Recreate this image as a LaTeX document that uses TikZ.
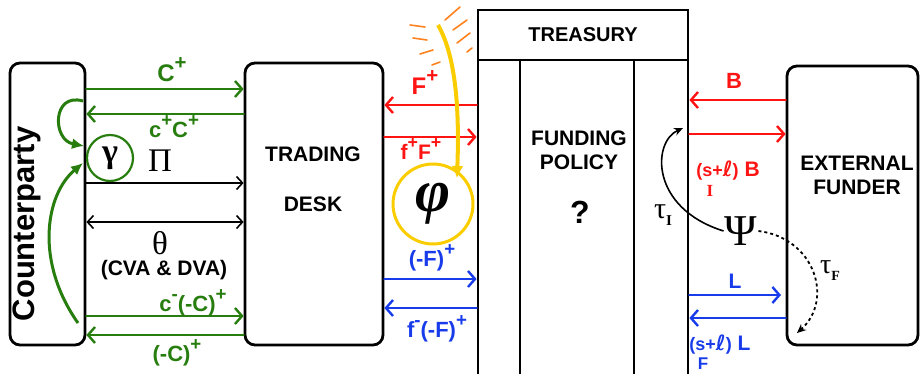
\documentclass[tikz,border=0pt]{standalone}
\usepackage{fontspec}
\setmainfont{Liberation Sans}
\newfontfamily\grk{Liberation Serif}
\newfontfamily\ellf{DejaVu Sans}
\usetikzlibrary{arrows.meta}
\definecolor{cgreen}{RGB}{40,125,15}
\definecolor{cred}{RGB}{255,20,20}
\definecolor{cblue}{RGB}{25,60,235}
\definecolor{cyellow}{RGB}{250,205,0}
\definecolor{corange}{RGB}{255,130,30}
\newcommand\upp[1]{\raisebox{0.5em}{\scalebox{0.85}{#1}}}
\begin{document}
\begin{tikzpicture}[x=1pt,y=-1pt,
  box/.style={draw, line width=2.8pt, rounded corners=10pt, inner sep=0pt},
  sqbox/.style={draw, line width=2.8pt, inner sep=0pt},
  lab/.style={font=\fontsize{21}{24}\selectfont\bfseries, inner sep=1pt},
  glab/.style={font=\fontsize{22}{24}\selectfont\bfseries, inner sep=1pt, text=cgreen},
  grklab/.style={font=\fontsize{33}{33}\selectfont\grk, inner sep=0pt},
  flow/.style={line width=2.8pt, line cap=round, -{Straight Barb[length=7pt,width=16pt,line width=2.4pt]}},
  bflow/.style={line width=2.2pt, -{Straight Barb[length=6pt,width=13pt,line width=1.6pt]}},
  bigtip/.style={line width=3pt, -{Latex[length=12pt,width=11pt]}}
]
\useasboundingbox (0,0) rectangle (921,373);

% boxes
\node[box, minimum width=75pt, minimum height=282pt] (cp) at (47.5,204) {};
\node[rotate=90, font=\fontsize{31}{31}\selectfont\bfseries, inner sep=0pt] (cptext) at (27,224) {Counterparty};
\node[box, minimum width=138pt, minimum height=282pt] (td) at (314,204) {};
\node[lab, align=center] (tdtext) at (313,179) {TRADING\\[26pt]DESK};
\node[sqbox, minimum width=210pt, minimum height=50pt, font=\fontsize{20}{22}\selectfont\bfseries] (tr) at (583,35) {TREASURY};
\node[sqbox, minimum width=210pt, minimum height=340pt] (tb) at (583,230) {};
\draw[line width=2.8pt] (tb.north -| 520,0) -- (tb.south -| 520,0);
\draw[line width=2.8pt] (tb.north -| 634,0) -- (tb.south -| 634,0);
\node[lab, align=center] (fp) at (579,150) {FUNDING\\POLICY};
\node[font=\fontsize{32}{32}\selectfont\bfseries] (q) at (580,212) {?};
\node[box, minimum width=131pt, minimum height=279pt] (ef) at (852.5,205.5) {};
\node[lab, align=center] (eftext) at (857,175) {EXTERNAL\\FUNDER};

% Counterparty <-> desk (green)
\draw[flow, cgreen] (cp.east |- 0,89) -- (td.west |- 0,89);
\node[glab, font=\fontsize{24}{24}\selectfont\bfseries] (lC) at (172,70) {C\upp{+}};
\draw[flow, cgreen] (td.west |- 0,114) -- (cp.east |- 0,114);
\node[glab] (lcC) at (174,127) {c\upp{+}C\upp{+}};
\node[draw=cgreen, circle, line width=2.2pt, minimum size=46pt, inner sep=0pt, font=\fontsize{34}{34}\selectfont\grk\bfseries] (gam) at (110,158) {γ};
\node[grklab] (pi) at (160,161) {Π};
\draw[bflow] (cp.east |- 0,183) -- (td.west |- 0,183);
\draw[line width=2.2pt, {Straight Barb[length=6pt,width=13pt,line width=1.6pt]}-{Straight Barb[length=6pt,width=13pt,line width=1.6pt]}] (cp.east |- 0,222) -- (td.west |- 0,222);
\node[grklab] (th) at (160,243) {θ};
\node[font=\fontsize{21}{24}\selectfont\bfseries] (cva) at (164,270) {(CVA \& DVA)};
\draw[flow, cgreen] (cp.east |- 0,316) -- (td.west |- 0,316);
\node[glab] (lcmC) at (193,303) {c\upp{-}(-C)\upp{+}};
\draw[flow, cgreen] (td.west |- 0,335) -- (cp.east |- 0,335);
\node[glab] (lmC) at (177,353) {(-C)\upp{+}};
\coordinate (g1s) at (78,323);
\coordinate (g1e) at (83,163);
\coordinate (g2s) at (83,101);
\coordinate (g2e) at (84,146);
\draw[bigtip, cgreen] (g1s) .. controls (35,262) and (45,195) .. (g1e);
\draw[bigtip, cgreen] (g2s) .. controls (52,92) and (52,140) .. (g2e);

% Desk <-> treasury
\draw[flow, cred] (tb.west |- 0,105) -- (td.east |- 0,105);
\node[lab, text=cred, font=\fontsize{24}{24}\selectfont\bfseries] (lF) at (425,83) {F\upp{+}};
\draw[flow, cred] (td.east |- 0,137) -- (tb.west |- 0,137);
\node[lab, text=cred, font=\fontsize{21}{22}\selectfont\bfseries, inner sep=0pt] (lfF) at (421,149) {f\upp{+}F\upp{+}};
\node[draw=cyellow, circle, line width=3pt, minimum size=80pt, inner sep=0pt, font=\fontsize{60}{60}\selectfont\grk\bfseries\itshape] (phi) at (433,204) {φ};
\coordinate (ys) at (438,25);
\coordinate (ye) at (457,178);
\draw[cyellow, line width=4pt, -{Latex[length=12pt,width=12pt]}] (ys) .. controls (458,60) and (459,120) .. (ye);
\foreach \a/\b/\c/\d in {410/25/425/27, 413/38/427/40, 420/54/433/50, 432/65/440/62, 445/20/460/7, 453/30/467/20, 457/43/470/33, 467/52/472/48}
  \draw[corange, line width=1.6pt, line cap=round] (\a,\b) -- (\c,\d);
\draw[flow, cblue] (td.east |- 0,279) -- (tb.west |- 0,279);
\node[lab, text=cblue, font=\fontsize{22}{24}\selectfont\bfseries] (lmF) at (432,258) {(-F)\upp{+}};
\draw[flow, cblue] (tb.west |- 0,308) -- (td.east |- 0,308);
\node[lab, text=cblue, font=\fontsize{22}{24}\selectfont\bfseries] (lfmF) at (437,329) {f\upp{-}(-F)\upp{+}};

% Treasury <-> external funder
\draw[flow, cred] (ef.west |- 0,100) -- (tb.east |- 0,100);
\node[lab, text=cred, font=\fontsize{22}{24}\selectfont\bfseries] (lB) at (734,81) {B};
\draw[flow, cred] (tb.east |- 0,134) -- (ef.west |- 0,134);
\node[lab, text=cred] (lsB) at (728,171) {{\fontsize{18}{20}\selectfont(s+}{\ellf\bfseries ℓ}{\fontsize{18}{20}\selectfont)} B};
\node[text=cred, font=\fontsize{17}{17}\selectfont\grk\bfseries, inner sep=0pt] (lI) at (710,191) {I};
\node[font=\fontsize{44}{44}\selectfont\grk, inner sep=1pt] (psi) at (741,231) {Ψ};
\coordinate (tIe) at (683,128);
\draw[line width=1.6pt, -{Stealth[length=9pt,width=8pt]}] (psi.west) .. controls (650,208) and (652,142) .. (tIe);
\node[font=\fontsize{30}{30}\selectfont\grk] (tauI) at (663,215) {τ\raisebox{-0.25em}{\fontsize{15}{15}\selectfont\bfseries I}};
\coordinate (tFe) at (797,333);
\draw[line width=1.8pt, dashed, -{Stealth[length=9pt,width=8pt]}] (psi.east) .. controls (815,238) and (834,300) .. (tFe);
\node[font=\fontsize{28}{28}\selectfont\grk] (tauF) at (830,271) {τ\raisebox{-0.25em}{\fontsize{14}{14}\selectfont\bfseries F}};
\coordinate (Le) at (781,295);
\draw[flow, cblue] (tb.east |- 0,295) -- (Le);
\node[lab, text=cblue] (lL) at (735,281) {L};
\draw[flow, cblue] (ef.west |- 0,318) -- (tb.east |- 0,318);
\node[lab, text=cblue] (lsL) at (720,345) {{\fontsize{18}{20}\selectfont(s+}{\ellf\bfseries ℓ}{\fontsize{18}{20}\selectfont)} L};
\node[text=cblue, font=\fontsize{17}{17}\selectfont\bfseries, inner sep=0pt] (lFs) at (703,364) {F};
\end{tikzpicture}
\end{document}
